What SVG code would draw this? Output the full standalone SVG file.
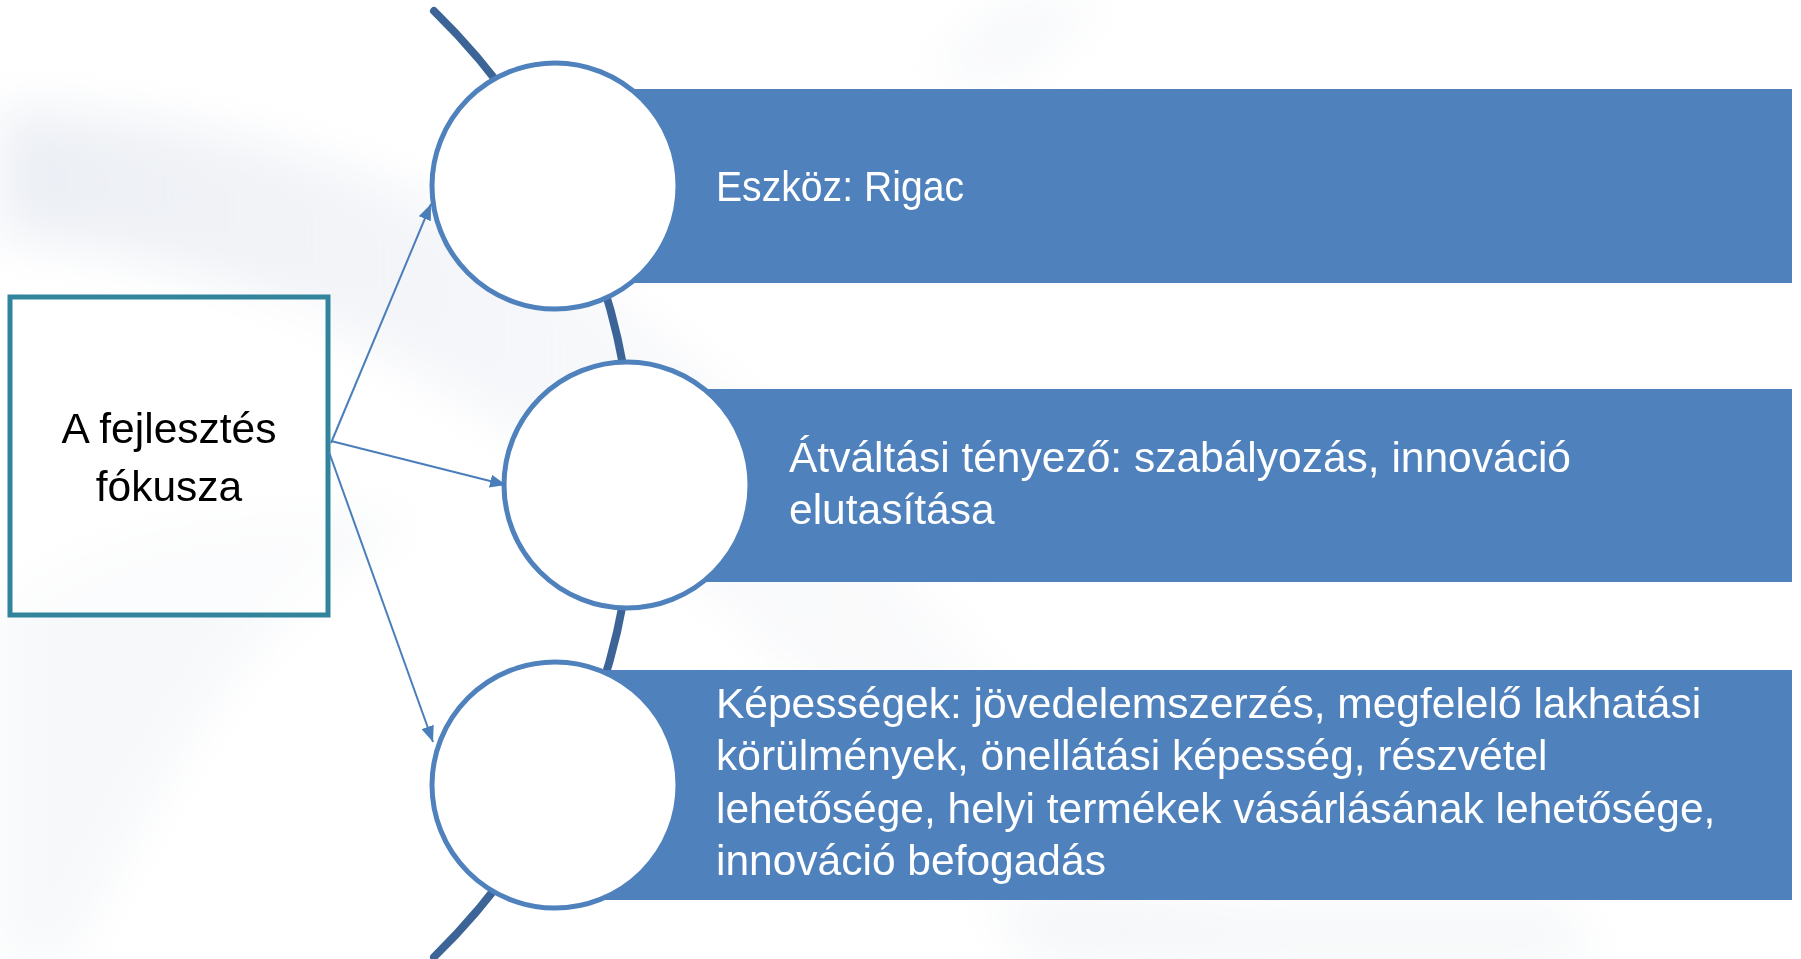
<svg xmlns="http://www.w3.org/2000/svg" width="1801" height="959" viewBox="0 0 1801 959">
  <style>
    .bar { fill: #4F81BD; }
    .circ { fill: #FFFFFF; stroke: #4F81BD; stroke-width: 5; }
    .btxt { font-family: "Liberation Sans", Arial, sans-serif; font-size: 42.5px; fill: #FFFFFF; }
    .ltxt { font-family: "Liberation Sans", Arial, sans-serif; font-size: 42.5px; fill: #000000; text-anchor: middle; }
    .conn { stroke: #4A7EBB; stroke-width: 2; fill: none; marker-end: url(#arr); }
  </style>
  <defs>
    <marker id="arr" markerUnits="userSpaceOnUse" markerWidth="17" markerHeight="13" refX="16" refY="6.5" orient="auto">
      <path d="M0,0 L16,6.5 L0,13 z" fill="#4A7EBB"/>
    </marker>
    <linearGradient id="sw1" x1="0" y1="0" x2="1" y2="0">
      <stop offset="0" stop-color="#E6EAF1" stop-opacity="0.8"/>
      <stop offset="0.5" stop-color="#EEF0F5" stop-opacity="0.45"/>
      <stop offset="1" stop-color="#F3F4F7" stop-opacity="0.2"/>
    </linearGradient>
    <filter id="soft" x="-20%" y="-20%" width="140%" height="140%">
      <feGaussianBlur stdDeviation="25"/>
    </filter>
  </defs>

  <!-- background -->
  <rect x="0" y="0" width="1801" height="959" fill="#FFFFFF"/>
  <g id="background" filter="url(#soft)">
    <path d="M0,110 C300,115 560,230 760,420 C930,590 1100,800 1260,959 L1080,959 C920,790 740,610 580,480 C400,340 190,250 0,235 Z" fill="url(#sw1)"/>
    <path d="M0,600 C120,520 260,500 420,520 C330,560 250,640 190,740 C140,820 100,900 70,959 L0,959 Z" fill="#F1F3F6" opacity="0.6"/>
    <path d="M1010,0 L1110,0 L1010,80 L920,80 Z" fill="#F2F3F7" opacity="0.6"/>
    <path d="M980,910 L1560,910 L1600,959 L1040,959 Z" fill="#F0F2F5" opacity="0.7"/>
  </g>

  <!-- arc behind circles -->
  <g id="arc">
    <path d="M434,11 A660,660 0 0 1 434,957" fill="none" stroke="#3C6496" stroke-width="8" stroke-linecap="round"/>
  </g>

  <!-- items -->
  <g id="item1">
    <rect class="bar" x="600" y="89" width="1192" height="194"/>
    <circle class="circ" cx="555" cy="186" r="123"/>
    <text class="btxt" x="716" y="201" textLength="248" lengthAdjust="spacingAndGlyphs">Eszköz: Rigac</text>
  </g>
  <g id="item2">
    <rect class="bar" x="680" y="389" width="1112" height="193"/>
    <circle class="circ" cx="627" cy="485" r="123"/>
    <text class="btxt" x="789" y="472">Átváltási tényező: szabályozás, innováció</text>
    <text class="btxt" x="789" y="524">elutasítása</text>
  </g>
  <g id="item3">
    <rect class="bar" x="600" y="670" width="1192" height="230"/>
    <circle class="circ" cx="555" cy="785" r="123"/>
    <text class="btxt" x="716" y="718">Képességek: jövedelemszerzés, megfelelő lakhatási</text>
    <text class="btxt" x="716" y="770">körülmények, önellátási képesség, részvétel</text>
    <text class="btxt" x="716" y="823">lehetősége, helyi termékek vásárlásának lehetősége,</text>
    <text class="btxt" x="716" y="875">innováció befogadás</text>
  </g>

  <!-- focus box -->
  <g id="focus">
    <rect x="10" y="297" width="318" height="318" fill="#FFFFFF" fill-opacity="0.55" stroke="#31849B" stroke-width="5"/>
    <text class="ltxt" x="169" y="443">A fejlesztés</text>
    <text class="ltxt" x="169" y="501">fókusza</text>
  </g>

  <!-- connectors -->
  <g id="connectors">
    <line class="conn" x1="331" y1="443" x2="431" y2="204"/>
    <line class="conn" x1="331" y1="441" x2="506" y2="485"/>
    <line class="conn" x1="329" y1="452" x2="433" y2="742"/>
  </g>
</svg>
